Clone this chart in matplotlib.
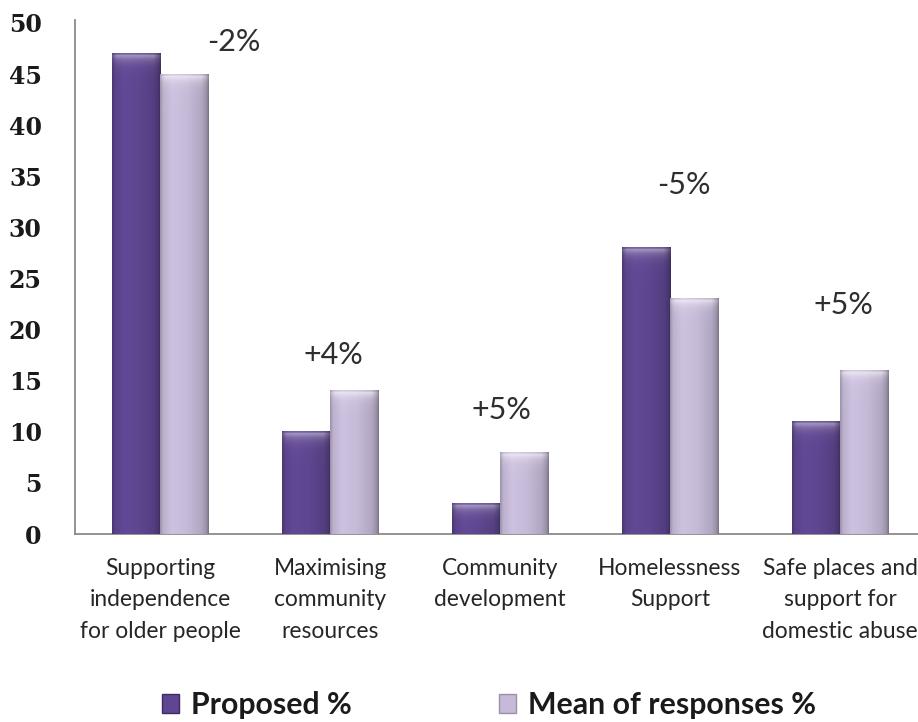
import numpy as np
import matplotlib
matplotlib.use("Agg")
import matplotlib.pyplot as plt
from matplotlib.patches import Patch
from matplotlib.colors import to_rgb

# --- data -------------------------------------------------------------
categories = [
    "Supporting\nindependence\nfor older people",
    "Maximising\ncommunity\nresources",
    "Community\ndevelopment",
    "Homelessness\nSupport",
    "Safe places and\nsupport for\ndomestic abuse",
]
proposed = [47, 10, 3, 28, 11]
mean_responses = [45, 14, 8, 23, 16]
series_names = ["Proposed %", "Mean of responses %"]
y_ticks = [0, 5, 10, 15, 20, 25, 30, 35, 40, 45, 50]

# where the change annotations sit (x in category units, y in value units)
change_label_pos = [(0.435, 48.1), (1.02, 17.5), (2.01, 12.1), (3.08, 34.1), (4.02, 22.4)]

# --- style ------------------------------------------------------------
dark_base = "#5e4690"
light_base = "#c6bad8"
axis_grey = "#8a8a8a"

fig = plt.figure(figsize=(9.18, 7.22), dpi=100)
ax = fig.add_axes([75 / 918, 188 / 722, 850 / 918, 511 / 722])

x = np.arange(len(categories))
bw = 0.283


def shade_bar(ax, x0, x1, h, base, light):
    """Paint a bevelled, cylindrical-looking gradient over one bar."""
    base = np.array(to_rgb(base))
    nx = 80
    ny = max(int(h * 12), 12)
    t = np.linspace(0, 1, nx)
    # brightness across the bar: dark rim on the right, soft edge on the left
    prof = np.interp(t, [0, 0.06, 0.25, 0.55, 0.85, 0.95, 1.0],
                     [0.78, 0.95, 1.04, 1.0, 0.9, 0.78, 0.62])
    v = np.linspace(0, h, ny)
    d = h - v  # distance from the top in value units
    hl = np.exp(-np.clip(d - 0.25, 0, None) / 0.5) * (0.55 if light else 0.4)
    hl[d < 0.12] *= 0.35
    img = base[None, None, :] * prof[None, :, None]
    img = np.clip(img, 0, 1)
    # top highlight fades towards the rims
    rim = np.interp(t, [0, 0.1, 0.85, 1.0], [0.4, 1.0, 1.0, 0.3])
    w = hl[:, None] * rim[None, :]
    img = img * (1 - w[..., None]) + w[..., None] * 1.0
    ax.imshow(img, extent=[x0, x1, 0, h], origin="lower", aspect="auto",
              interpolation="bilinear", zorder=3)


bars1 = ax.bar(x - bw / 2, proposed, bw, color=dark_base, zorder=2,
               edgecolor="none")
bars2 = ax.bar(x + bw / 2, mean_responses, bw, color=light_base, zorder=2,
               edgecolor="none")
for b in bars1:
    shade_bar(ax, b.get_x(), b.get_x() + b.get_width(), b.get_height(), dark_base, False)
for b in bars2:
    shade_bar(ax, b.get_x(), b.get_x() + b.get_width(), b.get_height(), light_base, True)

# change annotations computed from the two series
for (px, py), p, m in zip(change_label_pos, proposed, mean_responses):
    ax.text(px, py, f"{m - p:+d}%", ha="center", va="center",
            fontsize=22, family="Lato", color="#2e2e2e", zorder=5)

ax.set_xlim(-0.5, len(categories) - 0.5)
ax.set_ylim(0, 50)
ax.set_yticks(y_ticks)
ax.set_yticklabels([str(v) for v in y_ticks], family="DejaVu Serif",
                   fontsize=17, fontweight="bold", color="#1a1a1a")
ax.set_xticks(x)
ax.set_xticklabels(categories, family="Lato", fontsize=16.4, color="#262626",
                   linespacing=1.62)
ax.tick_params(axis="y", length=0, pad=24)
ax.tick_params(axis="x", length=0, pad=17)

for s in ["top", "right"]:
    ax.spines[s].set_visible(False)
for s in ["left", "bottom"]:
    ax.spines[s].set_color(axis_grey)
    ax.spines[s].set_linewidth(1.3)
ax.spines["left"].set_bounds(0, 50.3)

handles = [Patch(facecolor=dark_base, edgecolor="#3c2a63"),
           Patch(facecolor=light_base, edgecolor="#9a90aa")]
leg = fig.legend(handles, series_names, loc="center", ncol=2,
                 bbox_to_anchor=(489 / 918, 1 - 705 / 722),
                 frameon=False, handlelength=0.56, handleheight=0.56,
                 handletextpad=0.4, columnspacing=4.85,
                 prop={"family": "Lato", "weight": "bold", "size": 21.8})
for t in leg.get_texts():
    t.set_color("#1a1a1a")

fig.savefig("out.png", dpi=100)
